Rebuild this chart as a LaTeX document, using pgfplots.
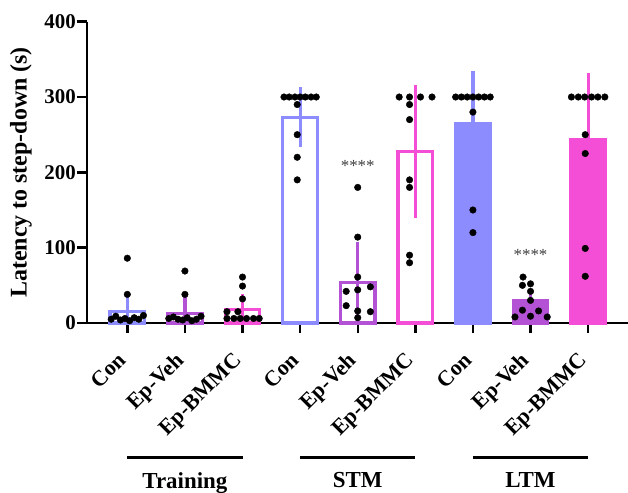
\documentclass[border=0pt]{standalone}
\usepackage{pgfplots}
\pgfplotsset{compat=1.18}
\usepackage{fontspec}
\setmainfont{Liberation Serif}
\definecolor{cblue}{RGB}{140,140,255}
\definecolor{cpurple}{RGB}{180,82,214}
\definecolor{cpink}{RGB}{245,78,214}
\begin{document}
\begin{tikzpicture}
\begin{axis}[
  x=57.6bp, y=0.7533bp,
  xmin=-0.7, xmax=8.69, ymin=0, ymax=400,
  axis x line*=bottom, axis y line*=left,
  axis line style={line width=2.6bp, -},
  clip=false,
  xtick={0,...,8},
  xticklabels={Con,Ep-Veh,Ep-BMMC,Con,Ep-Veh,Ep-BMMC,Con,Ep-Veh,Ep-BMMC},
  ytick={0,100,200,300,400},
  tick align=outside,
  major tick length=10bp,
  tick style={line width=2.4bp, black},
  /pgf/number format/assume math mode=true,
  yticklabel style={font=\bfseries\fontsize{21}{24}\selectfont, inner sep=1bp},
  xticklabel style={font=\bfseries\fontsize{22}{24}\selectfont, xshift=-1bp, yshift=-26bp, rotate=45, anchor=east, inner sep=1bp, text height=0.68em, text depth=0.2em},
  ylabel={Latency to step-down (s)},
  ylabel style={font=\bfseries\fontsize{24}{28}\selectfont, at={(axis description cs:-0.122,0.5)}, anchor=center, rotate=0},
]
% ---- Training ----
\addplot[ybar, bar width=0.6, bar shift=0pt, draw=cblue, fill=white, line width=3.2bp,
  error bars/.cd, y dir=both, y explicit, error mark=none, error bar style={line width=3.2bp, cblue}]
  coordinates {(0,15) += (0,20) -= (0,15)};
\addplot[ybar, bar width=0.6, bar shift=0pt, draw=cpurple, fill=white, line width=3.2bp,
  error bars/.cd, y dir=both, y explicit, error mark=none, error bar style={line width=3.2bp, cpurple}]
  coordinates {(1,13) += (0,22) -= (0,13)};
\addplot[ybar, bar width=0.6, bar shift=0pt, draw=cpink, fill=white, line width=3.2bp,
  error bars/.cd, y dir=both, y explicit, error mark=none, error bar style={line width=3.2bp, cpink}]
  coordinates {(2,18) += (0,20) -= (0,18)};
% ---- STM ----
\addplot[ybar, bar width=0.6, bar shift=0pt, draw=cblue, fill=white, line width=3.2bp,
  error bars/.cd, y dir=both, y explicit, error mark=none, error bar style={line width=3.2bp, cblue}]
  coordinates {(3,273) +- (0,40)};
\addplot[ybar, bar width=0.6, bar shift=0pt, draw=cpurple, fill=white, line width=3.2bp,
  error bars/.cd, y dir=both, y explicit, error mark=none, error bar style={line width=3.2bp, cpurple}]
  coordinates {(4,54) +- (0,54)};
\addplot[ybar, bar width=0.6, bar shift=0pt, draw=cpink, fill=white, line width=3.2bp,
  error bars/.cd, y dir=both, y explicit, error mark=none, error bar style={line width=3.2bp, cpink}]
  coordinates {(5,228) +- (0,88)};
% ---- LTM ----
\addplot[ybar, bar width=0.6, bar shift=0pt, draw=cblue, fill=cblue, line width=3.2bp,
  error bars/.cd, y dir=both, y explicit, error mark=none, error bar style={line width=3.2bp, cblue}]
  coordinates {(6,265) +- (0,69)};
\addplot[ybar, bar width=0.6, bar shift=0pt, draw=cpurple, fill=cpurple, line width=3.2bp,
  error bars/.cd, y dir=both, y explicit, error mark=none, error bar style={line width=3.2bp, cpurple}]
  coordinates {(7,30) +- (0,12)};
\addplot[ybar, bar width=0.6, bar shift=0pt, draw=cpink, fill=cpink, line width=3.2bp,
  error bars/.cd, y dir=both, y explicit, error mark=none, error bar style={line width=3.2bp, cpink}]
  coordinates {(8,243) +- (0,89)};
% ---- individual points ----
\addplot[only marks, mark=*, mark size=3.3bp, black] coordinates {
 (0,86) (0,38) (-0.28,5) (-0.2,9) (-0.12,4) (-0.04,6) (0.04,3) (0.12,7) (0.2,5) (0.28,10)
 (1,69) (1,38) (0.72,6) (0.8,8) (0.88,5) (0.96,4) (1.04,7) (1.12,3) (1.2,5) (1.28,9)
 (2,61) (2,49) (2,32) (1.73,15) (1.92,15) (1.73,6) (1.85,6) (1.96,6) (2.07,6) (2.19,6) (2.29,6)
 (2.72,300) (2.81,300) (2.91,300) (3,300) (3.09,300) (3.19,300) (3.28,300)
 (2.95,290) (2.95,250) (2.95,220) (2.95,190)
 (4,180) (4,114) (4,61) (3.8,42) (4,44) (4.22,48) (3.8,23) (4,16) (4.22,15) (4,7)
 (4.72,300) (4.9,300) (5.09,300) (5.29,300) (4.9,290) (4.9,270) (4.9,190) (4.9,180) (4.9,90) (4.9,80)
 (5.7,300) (5.8,300) (5.9,300) (6,300) (6.1,300) (6.2,300) (6.3,300) (6,280) (6,150) (6,120)
 (6.87,61) (6.86,50) (7,52) (7,42) (7,30) (6.86,17) (7.14,16) (6.73,8) (7,9) (7.29,8)
 (7.71,300) (7.83,300) (7.94,300) (8.06,300) (8.17,300) (8.29,300) (7.95,250) (7.95,225) (7.95,99) (7.95,62)
};
% ---- significance ----
\node[anchor=base, inner sep=0, text=black!75, font=\fontsize{17}{20}\selectfont] at (axis cs:4,201.5) {****};
\node[anchor=base, inner sep=0, text=black!75, font=\fontsize{17}{20}\selectfont] at (axis cs:7,83.3) {****};
% ---- group brackets ----
\draw[line width=3bp] (axis cs:0,-178) -- (axis cs:2,-178);
\draw[line width=3bp] (axis cs:3,-178) -- (axis cs:5,-178);
\draw[line width=3bp] (axis cs:6,-178) -- (axis cs:8,-178);
\node[anchor=north, inner sep=0, yshift=-15bp, font=\bfseries\fontsize{23}{26}\selectfont] at (axis cs:1,-178) {Training};
\node[anchor=north, inner sep=0, yshift=-15bp, font=\bfseries\fontsize{23}{26}\selectfont] at (axis cs:4,-178) {STM};
\node[anchor=north, inner sep=0, yshift=-15bp, font=\bfseries\fontsize{23}{26}\selectfont] at (axis cs:7,-178) {LTM};
\end{axis}
\pgfresetboundingbox
\useasboundingbox (-87bp,-170bp) rectangle (541bp,323bp);
\end{tikzpicture}
\end{document}
